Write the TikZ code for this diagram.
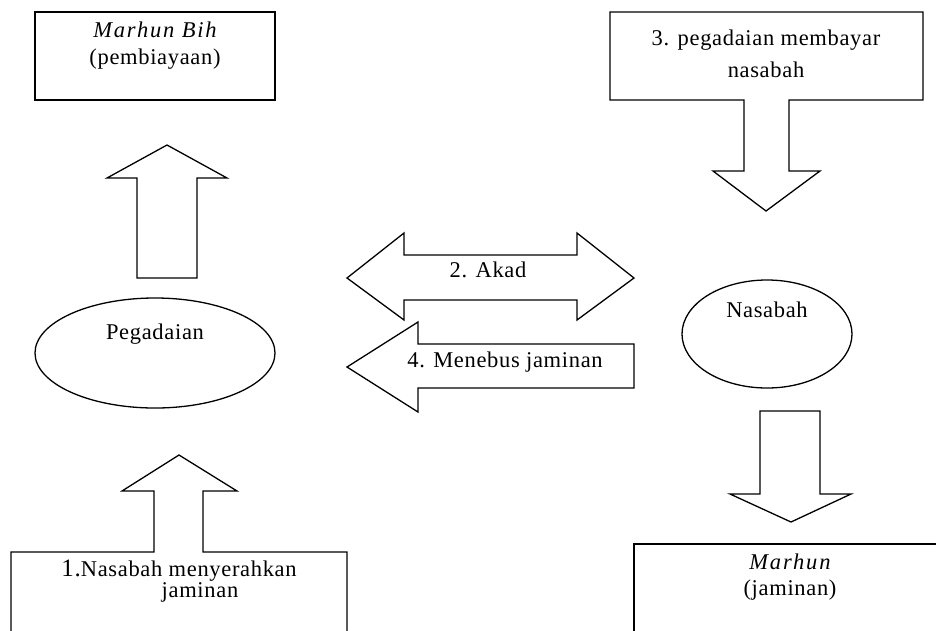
\documentclass[tikz,border=0pt]{standalone}
\usepackage{fontspec}
\setmainfont{Liberation Serif}[LetterSpace=3]
\newcommand{\itsp}[1]{{\itshape\addfontfeature{LetterSpace=8}#1}}
\begin{document}
\begin{tikzpicture}[x=1pt,y=-1pt,
  shape line/.style={draw=black,line width=1.3pt,line join=miter,fill=white},
  lbl/.style={anchor=mid,inner sep=0pt,font=\fontsize{22.5}{26}\selectfont}]
\clip (0,0) rectangle (936,630);
\fill[white] (0,0) rectangle (936,630);

% Marhun Bih box
\node[draw=black,line width=1.3pt,minimum width=240pt,minimum height=88pt,inner sep=0pt] (bihbox) at (155,56) {};
\node[lbl] (bih1) at (155,35) {\itsp{Marhun Bih}};
\node[lbl] (bih2) at (155,62) {(pembiayaan)};

% up arrow to Marhun Bih
\draw[shape line] (137,278) coordinate (upA1) -- (137,178) -- (107,178) -- (167,145) coordinate (upA1tip) -- (227,178) -- (197,178) -- (197,278) -- cycle;

% Pegadaian ellipse
\draw[line width=1.3pt] (155,353) coordinate (pegc) ellipse [x radius=120, y radius=55];
\node[lbl] (peg) at (155,337) {Pegadaian};

% box 1 with up arrow
\draw[shape line] (11,640) -- (11,552) -- (154,552) -- (154,491) -- (122,491) -- (179,455) coordinate (upB1tip) -- (237,491) -- (203,491) -- (203,552) -- (347,552) -- (347,640);
\node[lbl,anchor=base] (n1a) at (179,576) {\fontsize{25}{25}\selectfont 1.\fontsize{22.5}{26}\selectfont Nasabah menyerahkan};
\node[lbl] (n1b) at (200,595) {jaminan};

% double arrow Akad
\draw[shape line] (347,278) -- (404,233) -- (404,255) -- (577,255) -- (577,233) -- (634,278) -- (577,320) -- (577,300) -- (404,300) -- (404,320) -- cycle;
\node[lbl] (akad) at (488,275) {2. Akad};

% left arrow Menebus jaminan
\draw[shape line] (347,367) -- (418,322) -- (418,344) -- (634,344) -- (634,388) -- (418,388) -- (418,412) -- cycle;
\node[lbl] (menebus) at (505,365) {4. Menebus jaminan};

% box 3 with down arrow
\draw[shape line] (610,12) -- (923,12) -- (923,100) -- (789,100) -- (789,171) -- (820,171) -- (766,211) coordinate (dnA1tip) -- (713,171) -- (744,171) -- (744,100) -- (610,100) -- cycle;
\node[lbl] (n3a) at (766,43) {3. pegadaian membayar};
\node[lbl] (n3b) at (766,75) {nasabah};

% Nasabah ellipse
\draw[line width=1.3pt] (767,334) coordinate (nasc) ellipse [x radius=85, y radius=54];
\node[lbl] (nas) at (767,315) {Nasabah};

% down arrow to Marhun
\draw[shape line] (760,411) -- (820,411) -- (820,494) -- (851,494) -- (791,522) coordinate (dnB1tip) -- (730,494) -- (760,494) -- cycle;

% Marhun box
\draw[line width=1.3pt] (634,640) -- (634,544) -- (945,544);
\node[lbl] (mar1) at (790,567) {\itsp{Marhun}};
\node[lbl] (mar2) at (790,593) {(jaminan)};
\end{tikzpicture}
\end{document}
